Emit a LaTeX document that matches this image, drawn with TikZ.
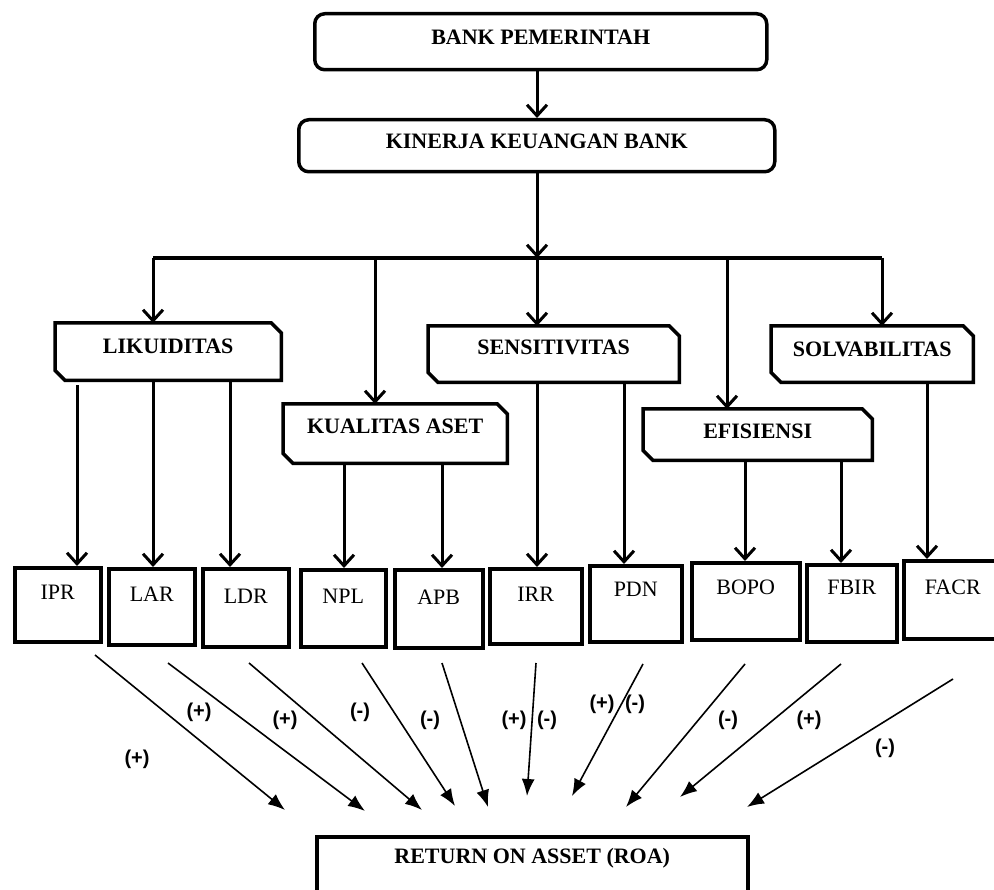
\documentclass[tikz,border=0pt]{standalone}
\usepackage{fontspec}
\setmainfont{Liberation Serif}
\newfontfamily\signfont{Liberation Sans}
\usetikzlibrary{arrows.meta}
\newcommand\catoutline[1]{\draw[boxline] (#1.north west) -- ([xshift=-10pt]#1.north east) -- ([yshift=-10pt]#1.north east) -- (#1.south east) -- ([xshift=10pt]#1.south west) -- ([yshift=10pt]#1.south west) -- cycle;}
\tikzset{
  boxline/.style={line width=3.5pt, line join=miter},
  hdr/.style={inner sep=0pt, anchor=north west, font=\fontsize{22}{24}\selectfont\bfseries},
  topbox/.style={hdr, draw, line width=3.5pt, rounded corners=10pt},
  catbox/.style={hdr},
  metric/.style={draw, line width=3.5pt, inner sep=0pt, anchor=north west, font=\fontsize{22}{24}\selectfont},
  roabox/.style={hdr, draw, line width=3.5pt},
  varrow/.style={line width=3pt, -{Straight Barb[length=11pt,width=20pt]}},
  darrow/.style={line width=1.6pt, -{Latex[length=17pt,width=13pt]}},
  sign/.style={font=\signfont\fontsize{20}{22}\selectfont\bfseries, inner sep=0pt}
}
\begin{document}
\begin{tikzpicture}[x=1pt,y=-1pt]
\useasboundingbox (0,0) rectangle (994,890);
% top boxes
\node[topbox, minimum width=452pt, text height=31pt, text depth=25pt] (bank) at (313,12) {BANK PEMERINTAH};
\node[topbox, minimum width=476pt, text height=29pt, text depth=23pt] (kin) at (297,118) {KINERJA KEUANGAN BANK};
\draw[varrow] (bank.south -| 537,0) -- (kin.north -| 537,0);
% bar
\coordinate (j1) at (153,258);
\coordinate (j2) at (375,258);
\coordinate (j3) at (537,258);
\coordinate (j4) at (727,258);
\coordinate (j5) at (882,258);
\draw[varrow] (kin.south -| j3) -- (j3);
\draw[line width=3.5pt] (j1) -- (j5);
% category boxes
\node[catbox, minimum width=226pt, text height=30pt, text depth=27pt] (lik) at (55,323) {LIKUIDITAS};
\node[catbox, minimum width=224pt, text height=29pt, text depth=30pt] (kua) at (283,404) {KUALITAS ASET};
\node[catbox, minimum width=251pt, text height=28pt, text depth=28pt] (sen) at (428,326) {SENSITIVITAS};
\node[catbox, minimum width=229pt, text height=29pt, text depth=22pt] (efi) at (643,409) {EFISIENSI};
\node[catbox, minimum width=202pt, text height=30pt, text depth=26pt] (sol) at (771,326) {SOLVABILITAS};
\catoutline{lik}
\catoutline{kua}
\catoutline{sen}
\catoutline{efi}
\catoutline{sol}
\draw[varrow] (j1) -- (j1 |- lik.north);
\draw[varrow] (j2) -- (j2 |- kua.north);
\draw[varrow] (j3) -- (j3 |- sen.north);
\draw[varrow] (j4) -- (j4 |- efi.north);
\draw[varrow] (j5) -- (j5 |- sol.north);
% metric boxes
\node[metric, minimum width=86pt, text height=32pt, text depth=42pt] (ipr) at (13,566) {IPR};
\node[metric, minimum width=86pt, text height=33pt, text depth=43pt] (lar) at (107,567) {LAR};
\node[metric, minimum width=86pt, text height=35pt, text depth=43pt] (ldr) at (201,567) {LDR};
\node[metric, minimum width=85pt, text height=34pt, text depth=43pt] (npl) at (299,568) {NPL};
\node[metric, minimum width=88pt, text height=35pt, text depth=43pt] (apb) at (393,568) {APB};
\node[metric, minimum width=92pt, text height=33pt, text depth=42pt] (irr) at (488,567) {IRR};
\node[metric, minimum width=92pt, text height=31pt, text depth=45pt] (pdn) at (588,564) {PDN};
\node[metric, minimum width=108pt, text height=32pt, text depth=45pt] (bopo) at (690,561) {BOPO};
\node[metric, minimum width=90pt, text height=30pt, text depth=47pt] (fbir) at (805,563) {FBIR};
\node[metric, minimum width=98pt, text height=34pt, text depth=44pt] (facr) at (902,559) {FACR};
% category -> metric
\draw[varrow] ([yshift=-5pt]lik.south -| 77,0) -- (ipr.north -| 77,0);
\draw[varrow] (lik.south -| 153,0) -- (lar.north -| 153,0);
\draw[varrow] (lik.south -| 230,0) -- (ldr.north -| 230,0);
\draw[varrow] (kua.south -| 344,0) -- (npl.north -| 344,0);
\draw[varrow] (kua.south -| 442,0) -- (apb.north -| 442,0);
\draw[varrow] (sen.south -| 537,0) -- (irr.north -| 537,0);
\draw[varrow] (sen.south -| 624,0) -- (pdn.north -| 624,0);
\draw[varrow] (efi.south -| 745,0) -- (bopo.north -| 745,0);
\draw[varrow] (efi.south -| 841,0) -- (fbir.north -| 841,0);
\draw[varrow] (sol.south -| 927,0) -- (facr.north -| 927,0);
% ROA
\node[roabox, minimum width=431pt, text height=27pt, text depth=43pt] (roa) at (315,835) {RETURN ON ASSET (ROA)};
% diagonal arrows
\coordinate (s1) at (95,655);  \coordinate (e1) at (285,810);
\coordinate (s2) at (168,663); \coordinate (e2) at (365,811);
\coordinate (s3) at (249,663); \coordinate (e3) at (422,810);
\coordinate (s4) at (362,663); \coordinate (e4) at (455,806);
\coordinate (s5) at (442,663); \coordinate (e5) at (488,807);
\coordinate (s6) at (536,663); \coordinate (e6) at (527,796);
\coordinate (s7) at (643,664); \coordinate (e7) at (572,796);
\coordinate (s8) at (745,664); \coordinate (e8) at (626,807);
\coordinate (s9) at (841,664); \coordinate (e9) at (680,797);
\coordinate (s10) at (953,679); \coordinate (e10) at (747,807);
\foreach \i in {1,...,10} {\draw[darrow] (s\i) -- (e\i);}
% signs
\node[sign] (l1) at (137,759) {(+)};
\node[sign] (l2) at (199,712) {(+)};
\node[sign] (l3) at (285,720) {(+)};
\node[sign] (l4) at (360,712) {(-)};
\node[sign] (l5) at (430,720) {(-)};
\node[sign] (l6a) at (514,720) {(+)};
\node[sign] (l6b) at (547,720) {(-)};
\node[sign] (l7a) at (602,704) {(+)};
\node[sign] (l7b) at (635,704) {(-)};
\node[sign] (l8) at (728,720) {(-)};
\node[sign] (l9) at (809,720) {(+)};
\node[sign] (l10) at (885,748) {(-)};
\end{tikzpicture}
\end{document}
